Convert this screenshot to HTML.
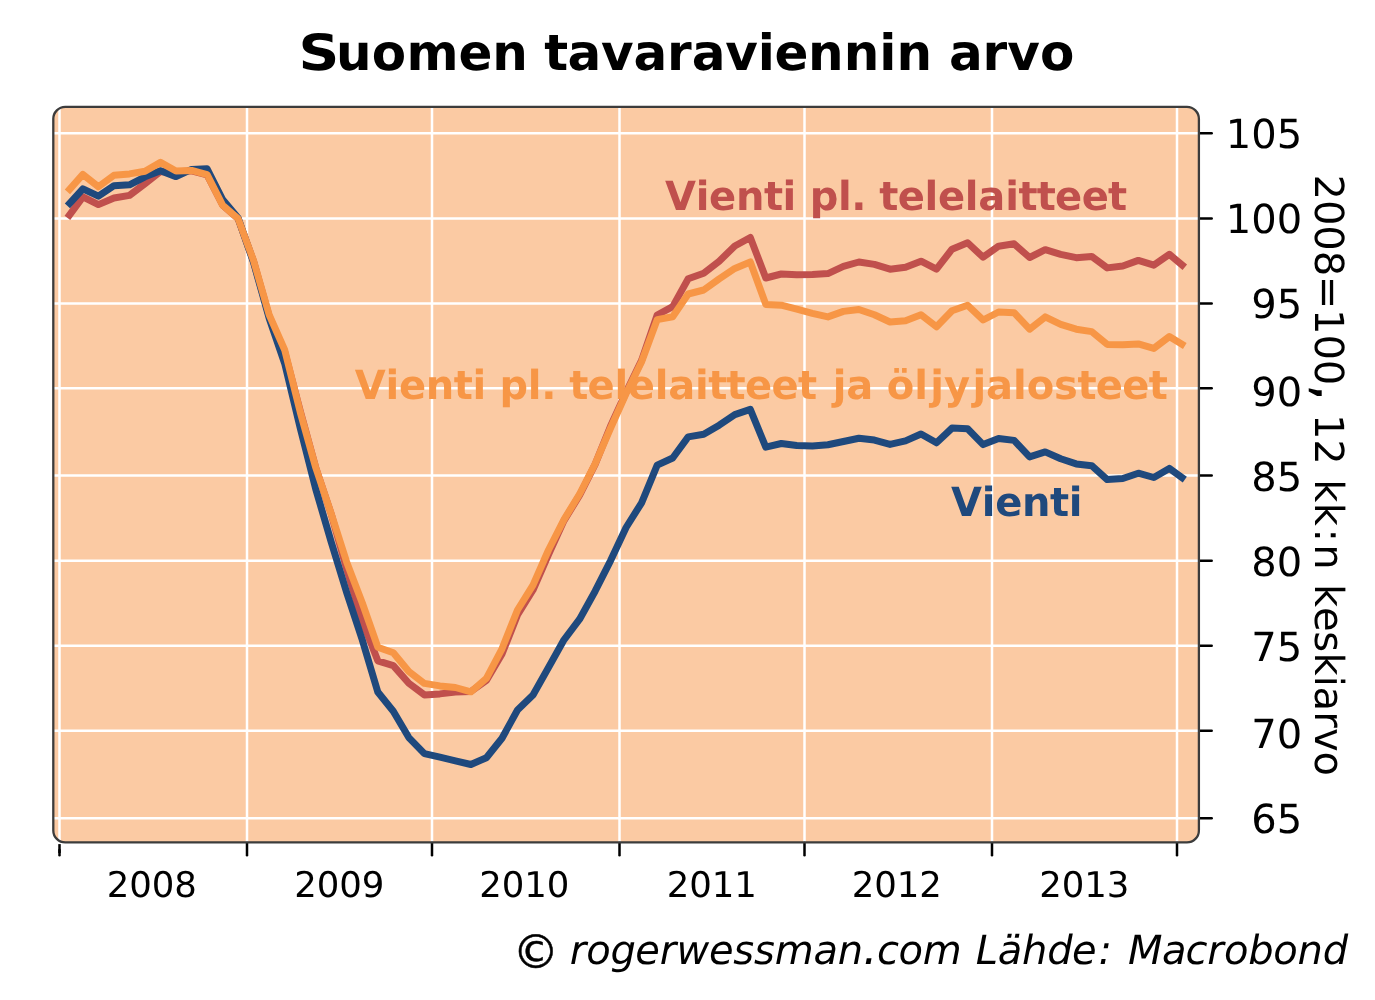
<!DOCTYPE html>
<html lang="fi"><head><meta charset="utf-8"><title>Suomen tavaraviennin arvo</title>
<style>html,body{margin:0;padding:0;background:#fff;}body{width:1375px;height:1000px;overflow:hidden;}svg{display:block;}text{font-family:'DejaVu Sans','Liberation Sans',sans-serif;text-rendering:geometricPrecision;}</style>
</head><body>
<svg width="1375" height="1000" viewBox="0 0 1375 1000">
<rect x="0" y="0" width="1375" height="1000" fill="#ffffff"/>
<defs><clipPath id="pc"><rect x="53.30" y="106.80" width="1145.60" height="735.65" rx="12" ry="12"/></clipPath></defs>
<rect x="53.30" y="106.80" width="1145.60" height="735.65" rx="12" ry="12" fill="#fbcaa3"/>
<g clip-path="url(#pc)" stroke="#ffffff" stroke-width="2.5" fill="none">
<line x1="59.50" y1="106.8" x2="59.50" y2="842.5"/>
<line x1="247.00" y1="106.8" x2="247.00" y2="842.5"/>
<line x1="432.00" y1="106.8" x2="432.00" y2="842.5"/>
<line x1="619.50" y1="106.8" x2="619.50" y2="842.5"/>
<line x1="804.50" y1="106.8" x2="804.50" y2="842.5"/>
<line x1="992.00" y1="106.8" x2="992.00" y2="842.5"/>
<line x1="1177.00" y1="106.8" x2="1177.00" y2="842.5"/>
<line x1="53.3" y1="133.35" x2="1198.9" y2="133.35"/>
<line x1="53.3" y1="218.40" x2="1198.9" y2="218.40"/>
<line x1="53.3" y1="303.40" x2="1198.9" y2="303.40"/>
<line x1="53.3" y1="388.20" x2="1198.9" y2="388.20"/>
<line x1="53.3" y1="475.55" x2="1198.9" y2="475.55"/>
<line x1="53.3" y1="560.70" x2="1198.9" y2="560.70"/>
<line x1="53.3" y1="645.70" x2="1198.9" y2="645.70"/>
<line x1="53.3" y1="730.70" x2="1198.9" y2="730.70"/>
<line x1="53.3" y1="818.20" x2="1198.9" y2="818.20"/>
</g>
<g clip-path="url(#pc)" fill="none" stroke-width="7.0" stroke-linejoin="round" stroke-linecap="butt">
<polyline stroke="#c0504d" points="67.4,217.8 82.9,196.8 98.4,204.6 114.0,198.0 129.5,195.4 145.0,183.6 160.5,171.5 176.0,172.0 191.6,170.8 207.1,174.8 222.6,205.0 238.1,218.6 253.6,261.5 269.2,316.4 284.7,352.0 300.2,411.0 315.7,467.5 331.2,514.0 346.8,569.4 362.3,621.0 377.8,660.8 393.3,665.6 408.8,683.2 424.4,694.9 439.9,693.9 455.4,692.0 470.9,691.5 486.4,680.5 502.0,654.0 517.5,615.0 533.0,590.0 548.5,554.5 564.0,520.6 579.6,495.2 595.1,464.4 610.6,426.0 626.1,392.3 641.6,360.4 657.2,315.0 672.7,306.6 688.2,278.8 703.7,273.2 719.2,261.2 734.8,246.0 750.3,237.5 765.8,278.0 781.3,274.0 796.8,274.8 812.4,274.4 827.9,273.6 843.4,266.4 858.9,262.0 874.4,264.4 890.0,269.2 905.5,267.3 921.0,261.2 936.5,269.2 952.0,249.2 967.6,242.8 983.1,257.2 998.6,246.2 1014.1,243.8 1029.6,257.5 1045.2,249.7 1060.7,254.3 1076.2,257.7 1091.7,256.4 1107.2,267.9 1122.8,266.0 1138.3,260.4 1153.8,265.2 1169.3,254.3 1184.8,267.3"/>
<polyline stroke="#1f497d" points="67.4,205.8 82.9,188.8 98.4,196.2 114.0,185.7 129.5,184.8 145.0,176.8 160.5,170.8 176.0,176.6 191.6,169.4 207.1,168.8 222.6,199.6 238.1,218.0 253.6,262.6 269.2,318.4 284.7,363.5 300.2,428.0 315.7,489.0 331.2,542.0 346.8,593.0 362.3,640.0 377.8,692.0 393.3,711.2 408.8,737.6 424.4,753.6 439.9,757.1 455.4,760.8 470.9,764.5 486.4,757.7 502.0,738.2 517.5,710.0 533.0,695.0 548.5,667.5 564.0,639.8 579.6,619.2 595.1,591.2 610.6,560.6 626.1,527.5 641.6,502.8 657.2,465.2 672.7,458.0 688.2,436.9 703.7,434.3 719.2,425.2 734.8,414.6 750.3,409.4 765.8,447.2 781.3,443.5 796.8,445.5 812.4,446.0 827.9,444.7 843.4,441.5 858.9,438.3 874.4,440.1 890.0,444.4 905.5,440.9 921.0,434.0 936.5,442.8 952.0,428.1 967.6,428.7 983.1,444.6 998.6,438.5 1014.1,440.4 1029.6,456.9 1045.2,451.9 1060.7,458.8 1076.2,463.9 1091.7,465.7 1107.2,479.6 1122.8,478.5 1138.3,473.2 1153.8,477.5 1169.3,468.4 1184.8,479.6"/>
<polyline stroke="#f79646" points="67.4,191.8 82.9,174.4 98.4,186.8 114.0,175.3 129.5,173.9 145.0,171.3 160.5,162.4 176.0,171.0 191.6,170.4 207.1,174.6 222.6,205.2 238.1,218.6 253.6,260.7 269.2,314.9 284.7,350.0 300.2,412.0 315.7,467.5 331.2,513.6 346.8,562.5 362.3,603.0 377.8,647.2 393.3,652.8 408.8,671.4 424.4,683.4 439.9,685.9 455.4,687.5 470.9,691.8 486.4,678.4 502.0,648.8 517.5,610.0 533.0,585.2 548.5,550.0 564.0,519.6 579.6,494.0 595.1,463.8 610.6,428.0 626.1,393.5 641.6,361.8 657.2,319.6 672.7,316.8 688.2,294.0 703.7,290.0 719.2,278.8 734.8,268.4 750.3,262.0 765.8,304.4 781.3,305.2 796.8,309.2 812.4,313.4 827.9,316.9 843.4,311.4 858.9,309.5 874.4,314.8 890.0,322.0 905.5,320.7 921.0,314.8 936.5,326.8 952.0,310.8 967.6,305.2 983.1,320.0 998.6,312.0 1014.1,312.7 1029.6,329.2 1045.2,316.9 1060.7,324.4 1076.2,329.2 1091.7,331.6 1107.2,344.4 1122.8,344.7 1138.3,343.9 1153.8,348.4 1169.3,336.6 1184.8,346.0"/>
</g>
<g stroke="#000000" stroke-width="2.5" stroke-linecap="round" fill="none">
<line x1="59.50" y1="844.1" x2="59.50" y2="853" stroke-linecap="butt"/>
<line x1="59.50" y1="850" x2="59.50" y2="855.2"/>
<line x1="247.00" y1="843.0" x2="247.00" y2="855.2"/>
<line x1="432.00" y1="843.0" x2="432.00" y2="855.2"/>
<line x1="619.50" y1="843.0" x2="619.50" y2="855.2"/>
<line x1="804.50" y1="843.0" x2="804.50" y2="855.2"/>
<line x1="992.00" y1="843.0" x2="992.00" y2="855.2"/>
<line x1="1177.00" y1="843.0" x2="1177.00" y2="855.2"/>
<line x1="1199.4" y1="133.35" x2="1211.7" y2="133.35"/>
<line x1="1199.4" y1="218.40" x2="1211.7" y2="218.40"/>
<line x1="1199.4" y1="303.40" x2="1211.7" y2="303.40"/>
<line x1="1199.4" y1="388.20" x2="1211.7" y2="388.20"/>
<line x1="1199.4" y1="475.55" x2="1211.7" y2="475.55"/>
<line x1="1199.4" y1="560.70" x2="1211.7" y2="560.70"/>
<line x1="1199.4" y1="645.70" x2="1211.7" y2="645.70"/>
<line x1="1199.4" y1="730.70" x2="1211.7" y2="730.70"/>
<line x1="1199.4" y1="818.20" x2="1211.7" y2="818.20"/>
</g>
<rect x="53.30" y="106.80" width="1145.60" height="735.65" rx="12" ry="12" fill="none" stroke="#3c3c3c" stroke-width="2.3"/>
<text aria-label="105" y="148.05" font-size="40" fill="#000000"><tspan x="1225.85 1251.29 1276.73">105</tspan></text>
<text aria-label="100" y="233.05" font-size="40" fill="#000000"><tspan x="1225.85 1251.29 1276.73">100</tspan></text>
<text aria-label="95" y="318.05" font-size="40" fill="#000000"><tspan x="1251.29 1276.73">95</tspan></text>
<text aria-label="90" y="405.55" font-size="40" fill="#000000"><tspan x="1251.29 1276.73">90</tspan></text>
<text aria-label="85" y="490.55" font-size="40" fill="#000000"><tspan x="1251.29 1276.73">85</tspan></text>
<text aria-label="80" y="575.55" font-size="40" fill="#000000"><tspan x="1251.29 1276.73">80</tspan></text>
<text aria-label="75" y="660.55" font-size="40" fill="#000000"><tspan x="1251.29 1276.73">75</tspan></text>
<text aria-label="70" y="748.05" font-size="40" fill="#000000"><tspan x="1251.29 1276.73">70</tspan></text>
<text aria-label="65" y="833.05" font-size="40" fill="#000000"><tspan x="1251.29 1276.73">65</tspan></text>
<text aria-label="2008" y="897.00" font-size="35.5" fill="#000000"><tspan x="106.64 129.21 151.79 174.37">2008</tspan></text>
<text aria-label="2009" y="897.00" font-size="35.5" fill="#000000"><tspan x="294.14 316.71 339.29 361.87">2009</tspan></text>
<text aria-label="2010" y="897.00" font-size="35.5" fill="#000000"><tspan x="479.14 501.71 524.29 546.87">2010</tspan></text>
<text aria-label="2011" y="897.00" font-size="35.5" fill="#000000"><tspan x="666.64 689.21 711.79 734.37">2011</tspan></text>
<text aria-label="2012" y="897.00" font-size="35.5" fill="#000000"><tspan x="851.64 874.21 896.79 919.37">2012</tspan></text>
<text aria-label="2013" y="897.00" font-size="35.5" fill="#000000"><tspan x="1039.14 1061.71 1084.29 1106.87">2013</tspan></text>
<g transform="translate(1314.7,0) rotate(90)"><text aria-label="2008=100, 12 kk:n keskiarvo" y="0.00" font-size="40" fill="#000000"><tspan x="174.47 199.91 225.35 250.79 275.83 308.95 334.39 359.83">2008=100</tspan><tspan x="383.97" font-size="54.0">,</tspan> <tspan x="413.91 439.35">12</tspan> <tspan x="479.13 502.81 528.57 544.37">kk:n</tspan> <tspan x="584.05 607.09 631.31 652.41 675.75 686.55 711.15 727.91 751.49">keskiarvo</tspan></text></g>
<text aria-label="Suomen tavaraviennin arvo" y="69.80" font-size="50" font-weight="bold" fill="#000000"><tspan x="298.53" textLength="40.82" lengthAdjust="spacingAndGlyphs">S</tspan><tspan x="336.10 371.70 406.45 458.59 492.15">uomen</tspan> <tspan x="544.30 567.48 601.03 633.43 667.10 691.68 725.23 757.78 774.54 808.10 843.70 879.28 896.40">tavaraviennin</tspan> <tspan x="948.93 982.60 1007.33 1039.90">arvo</tspan></text>
<text aria-label="Vienti pl. telelaitteet" y="210.00" font-size="40" font-weight="bold" fill="#c0504d"><tspan x="664.92 695.66 709.08 735.92 763.96 782.62">Vienti</tspan> <tspan x="809.66 837.94 851.26">pl.</tspan> <tspan x="879.32 897.72 924.54 937.96 964.78 978.34 1005.18 1018.44 1036.68 1055.08 1081.64 1108.04">telelaitteet</tspan></text>
<text aria-label="Vienti pl. telelaitteet ja öljyjalosteet" y="399.00" font-size="40" font-weight="bold" fill="#f79646"><tspan x="354.80 385.54 398.96 425.80 453.84 472.50">Vienti</tspan> <tspan x="499.54 527.82 541.14">pl.</tspan> <tspan x="569.20 587.60 614.42 627.84 654.66 668.22 695.06 708.32 726.56 744.96 771.52 797.92">telelaitteet</tspan> <tspan x="832.69 846.26">ja</tspan> <tspan x="886.80 914.26 930.37 944.06 972.53 986.10 1012.94 1026.64 1054.08 1077.40 1095.80 1122.36 1148.76">öljyjalosteet</tspan></text>
<text aria-label="Vienti" y="516.00" font-size="40" font-weight="bold" fill="#1f497d"><tspan x="951.00 981.74 995.16 1022.00 1050.04 1068.70">Vienti</tspan></text>
<text aria-label="© rogerwessman.com Lähde: Macrobond" y="963.80" font-size="40" font-style="italic" fill="#000000"><tspan x="512.56" y="967.5" font-size="46.6" font-style="normal" stroke="#000000" stroke-width="0.5">©</tspan> <tspan y="963.8" x="569.69 586.35 610.49 635.27 659.81 676.57 708.91 733.13 753.97 774.79 813.49 837.75">rogerwessman</tspan><tspan x="863.06" font-size="46.0">.</tspan><tspan x="877.07 898.39 922.75">com</tspan> <tspan x="975.77 997.81 1022.07 1047.17 1071.95 1098.51">Lähde:</tspan> <tspan x="1128.01 1161.89 1185.59 1207.33 1223.99 1248.13 1273.19 1297.55 1322.65">Macrobond</tspan></text>
</svg>
</body></html>
